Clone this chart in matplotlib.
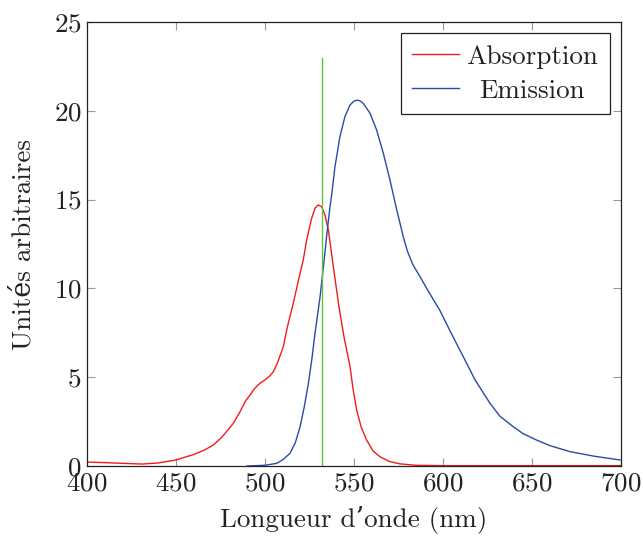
import numpy as np
import matplotlib
matplotlib.use("Agg")
import matplotlib.pyplot as plt
import matplotlib.transforms as mtransforms

plt.rcParams['font.family'] = ['cmr10', 'DejaVu Serif']
plt.rcParams['axes.formatter.use_mathtext'] = True
plt.rcParams['mathtext.fontset'] = 'cm'

# absorption spectrum
abs_nm = [400, 410, 420, 431, 440, 450, 460, 466, 471, 476, 482.2, 486, 489, 491.6,
          494, 497.2, 500, 502.5, 504.7, 507, 510.3, 512.5, 515.5, 519.7, 521.5,
          523.4, 526.2, 528.1, 529.9, 531.8, 533.7, 535.6, 538.4, 541.5, 544.5,
          547.8, 549.5, 551.5, 554, 557.1, 560.7, 564.6, 570, 575.8, 585, 600, 650, 700]
abs_val = [0.22, 0.19, 0.15, 0.11, 0.17, 0.34, 0.65, 0.9, 1.18, 1.65, 2.4, 3.06, 3.65, 4.0,
           4.35, 4.66, 4.85, 5.05, 5.31, 5.8, 6.72, 7.8, 9.0, 10.85, 11.6,
           12.72, 13.95, 14.51, 14.7, 14.6, 14.13, 13.29, 11.22, 9.0, 7.2,
           5.59, 4.3, 3.15, 2.2, 1.46, 0.85, 0.52, 0.25, 0.12, 0.04, 0.02, 0.02, 0.02]

# emission spectrum
em_nm = [490, 500, 506.6, 510, 514, 517, 519.7, 522, 524.4, 526.3, 528.1, 530.9,
         532.8, 534.7, 536.5, 537.5, 539.3, 542.1, 544.9, 547.8, 550, 551.9, 553.5,
         555.2, 559, 562.7, 566.5, 570.2, 573.6, 577.7, 580, 583, 587.1, 592, 598.3,
         604, 611.4, 618, 626.4, 632, 639.5, 645, 652.6, 660, 671.3, 685, 699.4]
em_val = [0.0, 0.04, 0.15, 0.35, 0.71, 1.3, 2.21, 3.3, 4.66, 6.0, 7.47, 9.5,
          11.2, 13.0, 14.6, 15.3, 16.85, 18.54, 19.67, 20.33, 20.55, 20.6, 20.55,
          20.42, 19.86, 18.92, 17.6, 16.1, 14.6, 12.9, 12.1, 11.35, 10.66, 9.8, 8.75,
          7.6, 6.15, 4.85, 3.53, 2.8, 2.21, 1.82, 1.46, 1.15, 0.81, 0.55, 0.34]

# excitation line
laser_nm = 532
laser_top = 23

fs = 19.5
fig = plt.figure(figsize=(6.43, 5.38), dpi=100)
ax = fig.add_axes([87 / 643, 72 / 538, 534 / 643, 444 / 538])

ax.plot(abs_nm, abs_val, color='#ee1c1c', lw=1.0, label='Absorption')
ax.plot(em_nm, em_val, color='#2a4aa8', lw=1.0, label='Emission')
ax.plot([laser_nm, laser_nm], [0, laser_top], color='#66c23a', lw=1.0)

ax.set_xlim(400, 700)
ax.set_ylim(0, 25)
ax.set_xticks([400, 450, 500, 550, 600, 650, 700])
ax.set_yticks([0, 5, 10, 15, 20, 25])
ax.tick_params(direction='in', length=6, width=0.8, color='#999999',
               top=True, right=True, labelsize=fs, labelcolor='#222222', pad=4)
for s in ax.spines.values():
    s.set_linewidth(0.9)
    s.set_color('#222222')

ax.set_xlabel("Longueur d’onde (nm)", fontsize=fs, color='#222222', labelpad=8)
ax.set_ylabel("Unités arbitraires", fontsize=fs, color='#222222', labelpad=13)

leg = ax.legend(loc='upper right', fontsize=fs, frameon=True, fancybox=False,
                edgecolor='#222222', framealpha=1, handlelength=1.73,
                borderaxespad=0.42, borderpad=0.42, labelspacing=0.38,
                handletextpad=0.28)
leg.get_frame().set_linewidth(0.9)
for t in leg.get_texts():
    t.set_color('#222222')

# centre the shorter legend entry like pgfplots does
fig.canvas.draw()
r = fig.canvas.get_renderer()
w = [t.get_window_extent(r).width for t in leg.get_texts()]
t2 = leg.get_texts()[1]
t2.set_transform(t2.get_transform() + mtransforms.Affine2D().translate((w[0] - w[1]) / 2, 0))

fig.savefig('out.png', dpi=100)
